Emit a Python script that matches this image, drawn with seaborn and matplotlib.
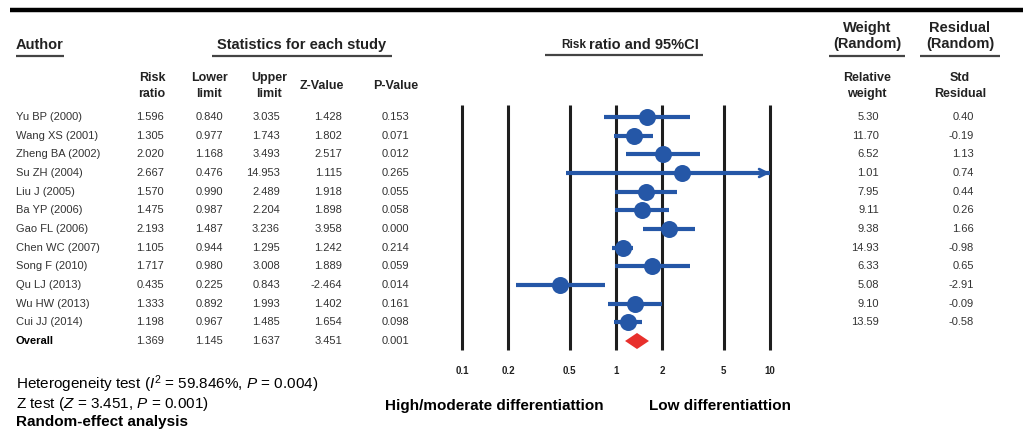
import matplotlib

matplotlib.use("Agg")
import matplotlib.pyplot as plt
import numpy as np
import pandas as pd
import seaborn as sns

AUTHORS = [
    "Yu BP (2000)", "Wang XS (2001)", "Zheng BA (2002)", "Su ZH (2004)",
    "Liu J (2005)", "Ba YP (2006)", "Gao FL (2006)", "Chen WC (2007)",
    "Song F (2010)", "Qu LJ (2013)", "Wu HW (2013)", "Cui JJ (2014)",
]
RISK_RATIO = [1.596, 1.305, 2.020, 2.667, 1.570, 1.475, 2.193, 1.105, 1.717, 0.435, 1.333, 1.198]
LOWER = [0.840, 0.977, 1.168, 0.476, 0.990, 0.987, 1.487, 0.944, 0.980, 0.225, 0.892, 0.967]
UPPER = [3.035, 1.743, 3.493, 14.953, 2.489, 2.204, 3.236, 1.295, 3.008, 0.843, 1.993, 1.485]
Z_VALUE = [1.428, 1.802, 2.517, 1.115, 1.918, 1.898, 3.958, 1.242, 1.889, -2.464, 1.402, 1.654]
P_VALUE = [0.153, 0.071, 0.012, 0.265, 0.055, 0.058, 0.000, 0.214, 0.059, 0.014, 0.161, 0.098]
REL_WEIGHT = [5.30, 11.70, 6.52, 1.01, 7.95, 9.11, 9.38, 14.93, 6.33, 5.08, 9.10, 13.59]
STD_RESIDUAL = [0.40, -0.19, 1.13, 0.74, 0.44, 0.26, 1.66, -0.98, 0.65, -2.91, -0.09, -0.58]

OVERALL = {"rr": 1.369, "lower": 1.145, "upper": 1.637, "z": 3.451, "p": 0.001}

TICKS = [0.1, 0.2, 0.5, 1, 2, 5, 10]
TICK_LABELS = ["0.1", "0.2", "0.5", "1", "2", "5", "10"]

BLUE = "#2557a7"
RED = "#e8302c"
LINE = "#1e1e1e"
TEXT = "#333333"
FONT = ["Liberation Sans", "DejaVu Sans"]

W, H = 1023, 433
ROW0, ROW_STEP = 117, (341 - 117) / 12

sns.set_theme(style="white")
plt.rcParams["font.family"] = FONT
plt.rcParams["mathtext.fontset"] = "custom"
plt.rcParams["mathtext.rm"] = "Liberation Sans"
plt.rcParams["mathtext.it"] = "Liberation Sans:italic"

fig = plt.figure(figsize=(W / 100, H / 100), dpi=100)

# background axes in pixel units for all the table text
bg = fig.add_axes([0, 0, 1, 1])
bg.set_xlim(0, W)
bg.set_ylim(H, 0)
bg.axis("off")


def row_y(i):
    return ROW0 + i * ROW_STEP


def underline(x0, x1, y):
    bg.plot([x0, x1], [y, y], color="#444444", lw=1.6, solid_capstyle="butt")


bg.plot([10, W], [10, 10], color="black", lw=3.2, solid_capstyle="butt")

# headers
bg.text(16, 45, "Author", fontsize=10.5, fontweight="bold", color="#222222", va="center")
underline(16, 64, 56)
bg.text(302, 45, "Statistics for each study", fontsize=10.5, fontweight="bold",
        color="#222222", ha="center", va="center")
underline(212, 392, 56)
bg.text(586, 45, "Risk", fontsize=8.5, fontweight="bold", color="#222222", ha="right", va="center")
bg.text(589, 45, "ratio and 95%CI", fontsize=10.5, fontweight="bold", color="#222222",
        ha="left", va="center")
underline(545, 703, 55)
bg.text(867, 36, "Weight\n(Random)", fontsize=10.5, fontweight="bold", color="#222222",
        ha="center", va="center", linespacing=1.2)
underline(829, 905, 56)
bg.text(960, 36, "Residual\n(Random)", fontsize=10.5, fontweight="bold", color="#222222",
        ha="center", va="center", linespacing=1.2)
underline(920, 1000, 56)

sub_heads = [
    (152, "Risk\nratio"), (209, "Lower\nlimit"), (269, "Upper\nlimit"),
    (322, "Z-Value"), (396, "P-Value"), (867, "Relative\nweight"), (960, "Std\nResidual"),
]
for x, label in sub_heads:
    bg.text(x, 86, label, fontsize=9, fontweight="bold", color="#222222",
            ha="center", va="center", linespacing=1.45)

# table rows
for i, name in enumerate(AUTHORS):
    y = row_y(i)
    bg.text(16, y, name, fontsize=8, color=TEXT, va="center")
    bg.text(164, y, f"{RISK_RATIO[i]:.3f}", fontsize=8, color=TEXT, ha="right", va="center")
    bg.text(223, y, f"{LOWER[i]:.3f}", fontsize=8, color=TEXT, ha="right", va="center")
    bg.text(280, y, f"{UPPER[i]:.3f}", fontsize=8, color=TEXT, ha="right", va="center")
    bg.text(342, y, f"{Z_VALUE[i]:.3f}", fontsize=8, color=TEXT, ha="right", va="center")
    bg.text(409, y, f"{P_VALUE[i]:.3f}", fontsize=8, color=TEXT, ha="right", va="center")
    bg.text(879, y, f"{REL_WEIGHT[i]:.2f}", fontsize=8, color=TEXT, ha="right", va="center")
    bg.text(974, y, f"{STD_RESIDUAL[i]:.2f}", fontsize=8, color=TEXT, ha="right", va="center")

y = row_y(len(AUTHORS))
bg.text(16, y, "Overall", fontsize=8, fontweight="bold", color="black", va="center")
for x, key in [(164, "rr"), (223, "lower"), (280, "upper"), (342, "z"), (409, "p")]:
    bg.text(x, y, f"{OVERALL[key]:.3f}", fontsize=8, color=TEXT, ha="right", va="center")

# footer notes
bg.text(16, 384, r"Heterogeneity test ($\mathit{I}^{2}$ = 59.846%, $\mathit{P}$ = 0.004)",
        fontsize=11, color="black", va="center")
bg.text(16, 404, r"Z test ($\mathit{Z}$ = 3.451, $\mathit{P}$ = 0.001)",
        fontsize=11, color="black", va="center")
bg.text(16, 422, "Random-effect analysis", fontsize=11, fontweight="bold",
        color="black", va="center")
bg.text(385, 406, "High/moderate differentiattion", fontsize=11, fontweight="bold",
        color="black", va="center")
bg.text(649, 406, "Low differentiattion", fontsize=11, fontweight="bold",
        color="black", va="center")

# forest plot axes: x 0.1..10 spans pixels 462..770
top_px, bot_px = 103, 352
ax = fig.add_axes([462 / W, 1 - bot_px / H, (770 - 462) / W, (bot_px - top_px) / H])
ax.patch.set_alpha(0)
ax.set_xscale("log")
ax.set_xlim(0.1, 10)
ax.set_ylim(12 + (bot_px - 341) / ROW_STEP, -(ROW0 - top_px) / ROW_STEP)
for side in ax.spines.values():
    side.set_visible(False)

n = len(AUTHORS)
ax.vlines(TICKS, -0.64, 12.48, color=LINE, lw=2.2, zorder=1, clip_on=False)

df = pd.DataFrame({"row": np.arange(n), "rr": RISK_RATIO, "lower": LOWER, "upper": UPPER})
ends = np.minimum(df["upper"], 10)
ax.hlines(df["row"], df["lower"], ends, color=BLUE, lw=3, zorder=2, clip_on=False)
for _, r in df[df["upper"] > 10].iterrows():
    ax.annotate("", xy=(10, r["row"]), xytext=(7, r["row"]),
                arrowprops=dict(arrowstyle="->", color=BLUE, lw=2, mutation_scale=14,
                                shrinkA=0, shrinkB=0), zorder=3)
sns.scatterplot(data=df, x="rr", y="row", s=150, color=BLUE, edgecolor=BLUE,
                linewidth=0, zorder=4, ax=ax, clip_on=False, legend=False)

half_h = 0.43
ax.fill([OVERALL["lower"], OVERALL["rr"], OVERALL["upper"], OVERALL["rr"]],
        [n, n - half_h, n, n + half_h], color=RED, lw=0, zorder=4)

ax.set_yticks([])
ax.set_xticks(TICKS)
ax.set_xticklabels(TICK_LABELS, fontsize=7, fontweight="bold", color="#222222")
ax.xaxis.set_minor_locator(matplotlib.ticker.NullLocator())
ax.tick_params(axis="x", length=0, pad=10)
ax.set_xlabel("")
ax.set_ylabel("")

fig.savefig("out.png", dpi=100)
